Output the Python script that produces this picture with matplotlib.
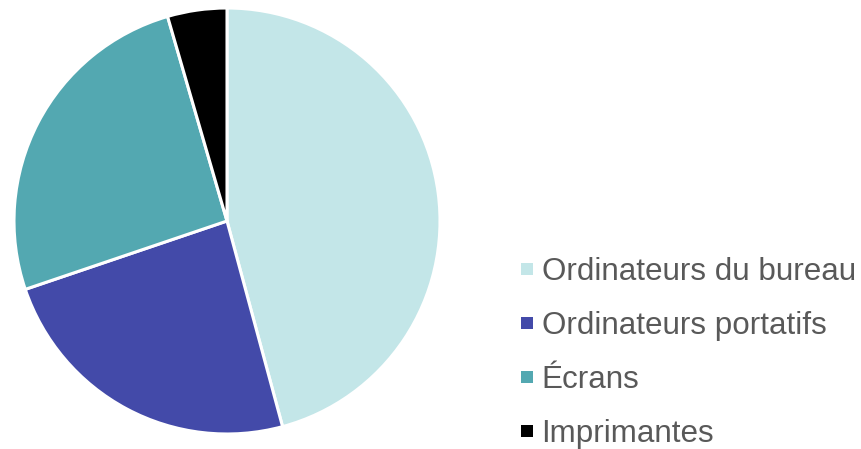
import matplotlib
matplotlib.use("Agg")
import matplotlib.pyplot as plt
from matplotlib.lines import Line2D

labels = ["Ordinateurs du bureau", "Ordinateurs portatifs", "Écrans", "Imprimantes"]
shares = [45.8, 24.0, 25.7, 4.5]
colors = ["#C3E6E8", "#434AA9", "#53A8B1", "#000000"]

plt.rcParams["font.family"] = ["Liberation Sans", "DejaVu Sans"]

fig = plt.figure(figsize=(8.62, 4.49), dpi=100)
ax = fig.add_axes([14 / 862, 15 / 449, 426 / 862, 426 / 449])
ax.pie(shares, colors=colors, startangle=90, counterclock=False, radius=1.0,
       wedgeprops=dict(edgecolor="white", linewidth=2.2))
ax.set_xlim(-1.0, 1.0); ax.set_ylim(-1.0, 1.0)
ax.set_aspect("equal"); ax.axis("off")

handles = [Line2D([], [], ls="", marker="s", markersize=8.5, color=c, markeredgewidth=0)
           for c in colors]
fig.legend(handles, labels, loc="center left", bbox_to_anchor=(518 / 862, 1 - 353 / 449),
           frameon=False, fontsize=22.6, labelcolor="#595959", handlelength=0.6,
           handletextpad=0.15, labelspacing=0.76, borderaxespad=0, borderpad=0)

fig.savefig("out.png", dpi=100)
